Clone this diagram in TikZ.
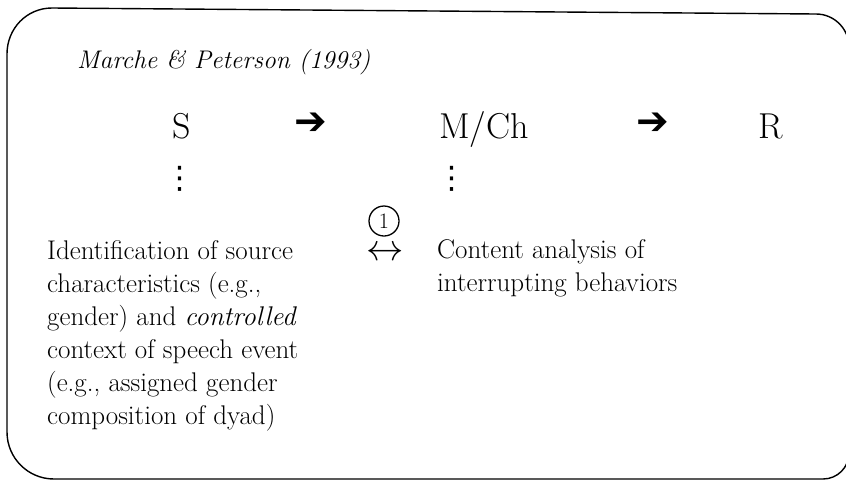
\documentclass[tikz,border=0pt]{standalone}
\usepackage{fontspec}
\newfontfamily\symfont{DejaVu Sans}
\begin{document}
\begin{tikzpicture}[x=1pt,y=-1pt,
  frame/.style={line width=1.4pt, line join=round},
  stage/.style={font=\fontsize{36}{40}\selectfont, inner sep=0pt, anchor=base},
  flowarrow/.style={font=\symfont\fontsize{39}{39}\selectfont, inner sep=0pt},
  body/.style={font=\fontsize{27}{33}\selectfont, align=left, inner sep=0pt, anchor=base west},
  dotcol/.style={font=\symfont\fontsize{31}{31}\selectfont, inner sep=0pt},
  circnum/.style={circle, draw, line width=1.3pt, inner sep=0.5pt, minimum size=30pt, font=\fontsize{22}{22}\selectfont},
]
\useasboundingbox (0,0) rectangle (846,480);
\fill[white] (0,0) rectangle (846,480);

% outer frame with rounded corners
\draw[frame] (7,54) .. controls (7,28.6) and (26.6,8) .. (52,8)
  -- (816,14) .. controls (834.2,14) and (849,28.8) .. (849,47)
  -- (849,453) .. controls (849,467.4) and (837.4,479) .. (823,479)
  -- (54,479) .. controls (28,479) and (7,458) .. (7,432)
  -- cycle;

% citation
\node[anchor=base west, inner sep=0pt, font=\itshape\fontsize{25.5}{30}\selectfont] (title) at (77,68) {Marche \& Peterson (1993)};

% S -> M/Ch -> R
\node[stage] (S) at (182,138) {S};
\node[flowarrow] (a1) at (311,124) {➔};
\node[stage, anchor=base west] (M) at (439,138) {M/Ch};
\node[flowarrow] (a2) at (653,124) {➔};
\node[stage] (R) at (771,138) {R};

% vertical dots below S and M/Ch
\node[dotcol] (sdots) at (180,179) {⋮};
\node[dotcol] (mdots) at (452,179) {⋮};

% link marker
\node[circnum] (link) at (384,221) {1};
\node[inner sep=0pt, font=\fontsize{20}{20}\selectfont] (both) at (385,254) {\scalebox{1.8}{$\leftrightarrow$}};

% descriptions (anchored at the baseline of their last line)
\node[body] (src) at (47,424) {Identification of source\\characteristics (e.g.,\\gender) and \textit{controlled}\\context of speech event\\(e.g., assigned gender\\composition of dyad)};
\node[body] (cont) at (437,291) {Content analysis of\\interrupting behaviors};
\end{tikzpicture}
\end{document}
